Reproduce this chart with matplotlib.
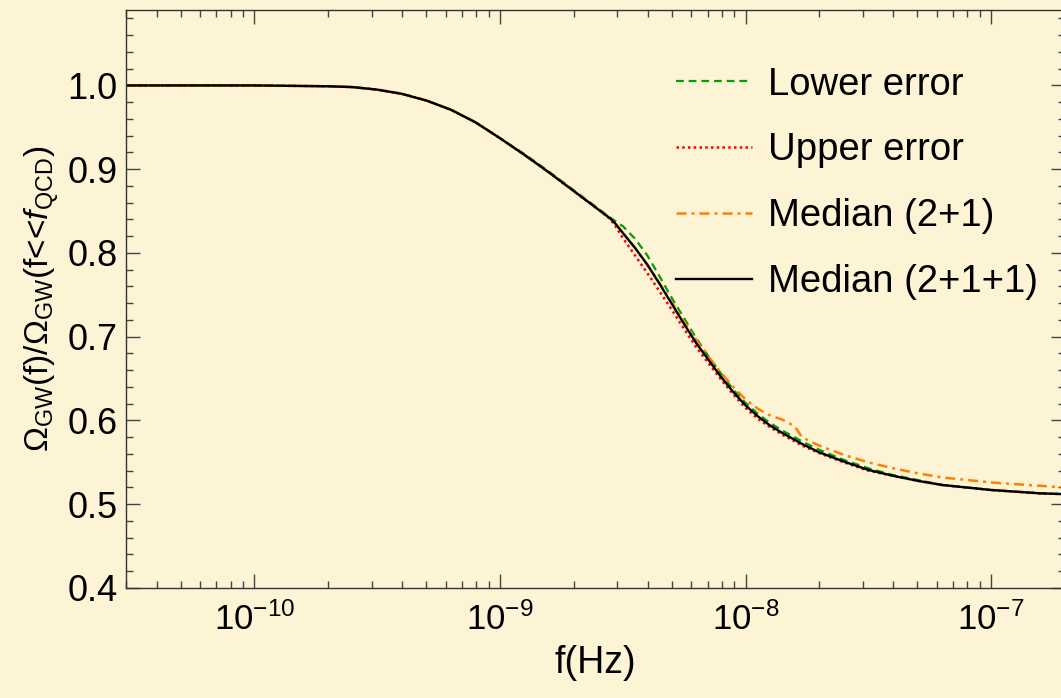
import matplotlib
matplotlib.use("Agg")
import numpy as np
import matplotlib.pyplot as plt
from matplotlib.ticker import MultipleLocator, LogLocator, NullFormatter, FormatStrFormatter

plt.rcParams['font.family'] = ['Liberation Sans', 'DejaVu Sans']
plt.rcParams['mathtext.fontset'] = 'custom'
plt.rcParams['mathtext.rm'] = 'Liberation Sans'
plt.rcParams['mathtext.it'] = 'Liberation Sans:italic'
plt.rcParams['mathtext.bf'] = 'Liberation Sans:bold'

# log10 de la frequence (Hz)
log_f = [-10.52, -10.0, -9.7, -9.6, -9.5, -9.4, -9.3, -9.2, -9.1, -9.0,
         -8.9, -8.8, -8.7, -8.6, -8.55, -8.53, -8.5, -8.45, -8.4, -8.35,
         -8.3, -8.25, -8.2, -8.15, -8.1, -8.05, -8.0, -7.95, -7.9, -7.85,
         -7.8, -7.77, -7.7, -7.6, -7.5, -7.4, -7.3, -7.2, -7.0, -6.8, -6.7]

# Omega_GW(f) / Omega_GW(f << f_QCD)
median_2p1p1 = [1.0, 1.0, 0.999, 0.998, 0.995, 0.990, 0.982, 0.971, 0.956, 0.937,
                0.917, 0.896, 0.874, 0.852, 0.841, 0.835, 0.824, 0.806, 0.786, 0.763,
                0.739, 0.715, 0.692, 0.672, 0.652, 0.634, 0.618, 0.605, 0.594, 0.585,
                0.577, 0.572, 0.562, 0.551, 0.541, 0.534, 0.528, 0.523, 0.517, 0.513, 0.512]

lower_err = [1.0, 1.0, 0.999, 0.998, 0.995, 0.990, 0.982, 0.971, 0.956, 0.937,
             0.918, 0.897, 0.875, 0.853, 0.842, 0.838, 0.832, 0.817, 0.797, 0.772,
             0.746, 0.722, 0.698, 0.676, 0.656, 0.637, 0.621, 0.608, 0.597, 0.588,
             0.580, 0.575, 0.565, 0.553, 0.543, 0.535, 0.529, 0.523, 0.517, 0.513, 0.512]

upper_err = [1.0, 1.0, 0.999, 0.998, 0.995, 0.990, 0.982, 0.971, 0.956, 0.937,
             0.917, 0.896, 0.874, 0.852, 0.840, 0.832, 0.818, 0.797, 0.776, 0.754,
             0.732, 0.709, 0.687, 0.668, 0.649, 0.631, 0.615, 0.602, 0.592, 0.583,
             0.575, 0.570, 0.561, 0.550, 0.540, 0.534, 0.528, 0.523, 0.517, 0.513, 0.512]

median_2p1 = [1.0, 1.0, 0.999, 0.998, 0.995, 0.990, 0.982, 0.971, 0.956, 0.937,
              0.917, 0.896, 0.874, 0.852, 0.841, 0.835, 0.824, 0.806, 0.786, 0.764,
              0.741, 0.718, 0.696, 0.676, 0.657, 0.640, 0.625, 0.614, 0.606, 0.601,
              0.593, 0.580, 0.570, 0.559, 0.550, 0.543, 0.537, 0.532, 0.526, 0.522, 0.520]

x_ticks = [1e-10, 1e-9, 1e-8, 1e-7]

freq = 10.0 ** np.array(log_f)

bg = '#fdf4d6'

fig = plt.figure(figsize=(10.61, 6.98), dpi=100, facecolor=bg)
ax = fig.add_axes([0.1188, 0.1576, 0.885, 0.828], facecolor=bg)

ax.plot(freq, lower_err, color='#00a000', lw=1.6, dashes=(3.5, 2.2), label='Lower error')
ax.plot(freq, upper_err, color='#ff0000', lw=1.8, dashes=(1.0, 1.3), label='Upper error')
ax.plot(freq, median_2p1, color='#ff8000', lw=1.8, dashes=(4.0, 2.0, 1.2, 2.0), label='Median (2+1)')
ax.plot(freq, median_2p1p1, color='black', lw=1.7, label='Median (2+1+1)')

ax.set_xscale('log')
ax.set_xlim(3e-11, 2e-7)
ax.set_ylim(0.4, 1.09)
ax.set_xticks(x_ticks)
ax.xaxis.set_minor_locator(LogLocator(base=10, subs=range(2, 10), numticks=20))
ax.xaxis.set_minor_formatter(NullFormatter())
ax.yaxis.set_major_locator(MultipleLocator(0.1))
ax.yaxis.set_minor_locator(MultipleLocator(0.02))
ax.yaxis.set_major_formatter(FormatStrFormatter('%.1f'))

ax.tick_params(which='both', direction='in', top=True, right=True, color='#444444', width=1)
ax.tick_params(which='major', length=10, labelsize=26, pad=6)
ax.tick_params(which='minor', length=5)
ax.tick_params(axis='x', which='major', labelsize=25, pad=10)
for s in ax.spines.values():
    s.set_color('#333333')
    s.set_linewidth(1)
ax.spines['right'].set_visible(False)

ax.set_xlabel('f(Hz)', fontsize=27, labelpad=6)
ax.set_ylabel(r'$\Omega_{\mathrm{GW}}$(f)/$\Omega_{\mathrm{GW}}$(f<<$\mathit{f}_{\mathrm{QCD}}$)',
              fontsize=24, labelpad=4)

leg = ax.legend(loc='upper left', bbox_to_anchor=(0.619, 0.932), bbox_transform=fig.transFigure,
                frameon=False, fontsize=27.5, handlelength=2.0, handletextpad=0.4,
                labelspacing=0.78, borderpad=0)

fig.savefig('out.png', dpi=100, facecolor=bg)
